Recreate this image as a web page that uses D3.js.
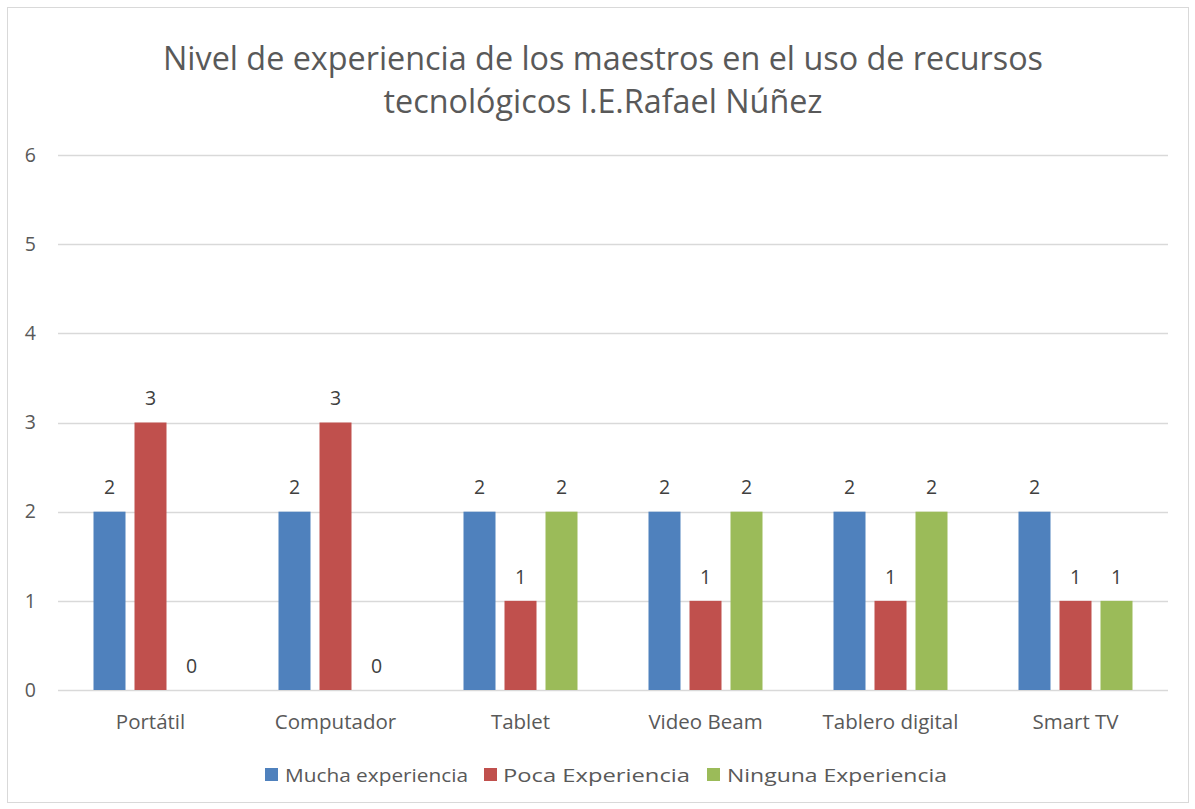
<!DOCTYPE html>
<html><head><meta charset="utf-8">
<script src="https://cdn.jsdelivr.net/npm/d3@7"></script>
<style>body{margin:0;background:#fff;} svg{display:block;}</style>
</head><body>
<svg id="c" width="1195" height="809"></svg>
<script>
const categories = ["Portátil","Computador","Tablet","Video Beam","Tablero digital","Smart TV"];
const seriesNames = ["Mucha experiencia","Poca Experiencia","Ninguna Experiencia"];
const mucha = [2,2,2,2,2,2];
const poca = [3,3,1,1,1,1];
const ninguna = [0,0,2,2,2,1];
const yTicks = [0,1,2,3,4,5,6];
const titleLines = ["Nivel de experiencia de los maestros en el uso de recursos","tecnológicos I.E.Rafael Núñez"];
const colors = ["#4F81BD","#C0504D","#9BBB59"];
const seriesValues = [mucha, poca, ninguna];

const svg = d3.select("#c");
const font = "'Open Sans', sans-serif";
const txt = "#595959";

svg.append("rect").attr("x",7.5).attr("y",7.5).attr("width",1181).attr("height",795)
  .attr("fill","#fff").attr("stroke","#D9D9D9").attr("stroke-width",1);

const m = {left:58, right:1168, top:155, bottom:690};
const x = d3.scaleBand().domain(categories).range([m.left, m.right]);
const y = d3.scaleLinear().domain([0,6]).range([m.bottom, m.top]);

// gridlines
svg.append("g").selectAll("line").data(yTicks).join("line")
  .attr("x1",m.left).attr("x2",m.right)
  .attr("y1",d=>Math.round(y(d))+0.5).attr("y2",d=>Math.round(y(d))+0.5)
  .attr("stroke","#D9D9D9").attr("stroke-width",1.5);

// y labels
svg.append("g").selectAll("text").data(yTicks).join("text")
  .attr("x",36).attr("y",d=>y(d)).attr("dy","0.35em").attr("text-anchor","end")
  .attr("font-family",font).attr("font-size",19.5).attr("fill",txt).text(d=>d);

// bars
const barW = 32, gap = 9;
const inner = d3.scaleBand().domain(d3.range(3)).range([0, 3*barW+2*gap]).paddingInner(gap/(barW+gap));
const groupW = 3*barW+2*gap;
const g = svg.append("g");
seriesValues.forEach((vals,si)=>{
  g.selectAll(null).data(vals).join("rect")
    .attr("x",(d,i)=>x(categories[i]) + (x.bandwidth()-groupW)/2 + inner(si))
    .attr("y",d=>y(d)).attr("width",inner.bandwidth()).attr("height",d=>y(0)-y(d))
    .attr("fill",colors[si]);
  g.selectAll(null).data(vals).join("text")
    .attr("x",(d,i)=>x(categories[i]) + (x.bandwidth()-groupW)/2 + inner(si) + inner.bandwidth()/2)
    .attr("y",d=>y(d)-24).attr("dy","0.35em").attr("text-anchor","middle")
    .attr("font-family",font).attr("font-size",19.5).attr("fill","#404040").text(d=>d);
});

// x labels
svg.append("g").selectAll("text").data(categories).join("text")
  .attr("x",d=>x(d)+x.bandwidth()/2).attr("y",722).attr("dy","0.35em").attr("text-anchor","middle")
  .attr("font-family",font).attr("font-size",20.5).attr("fill",txt).text(d=>d);

// title
const tl = [[603,70,880],[603,113,439]];
svg.append("g").selectAll("text").data(titleLines).join("text")
  .attr("x",(d,i)=>tl[i][0]).attr("y",(d,i)=>tl[i][1]).attr("text-anchor","middle")
  .attr("font-family",font).attr("font-size",32).attr("fill",txt)
  .attr("textLength",(d,i)=>tl[i][2]).attr("lengthAdjust","spacingAndGlyphs").text(d=>d);

// legend
const legPos = [[265,285,183],[484,503,187],[707,727,220]];
const lg = svg.append("g");
seriesNames.forEach((n,i)=>{
  lg.append("rect").attr("x",legPos[i][0]).attr("y",768).attr("width",13).attr("height",13).attr("fill",colors[i]);
  lg.append("text").attr("x",legPos[i][1]).attr("y",775).attr("dy","0.35em")
    .attr("font-family",font).attr("font-size",19).attr("fill",txt)
    .attr("textLength",legPos[i][2]).attr("lengthAdjust","spacingAndGlyphs").text(n);
});
</script>
</body></html>
